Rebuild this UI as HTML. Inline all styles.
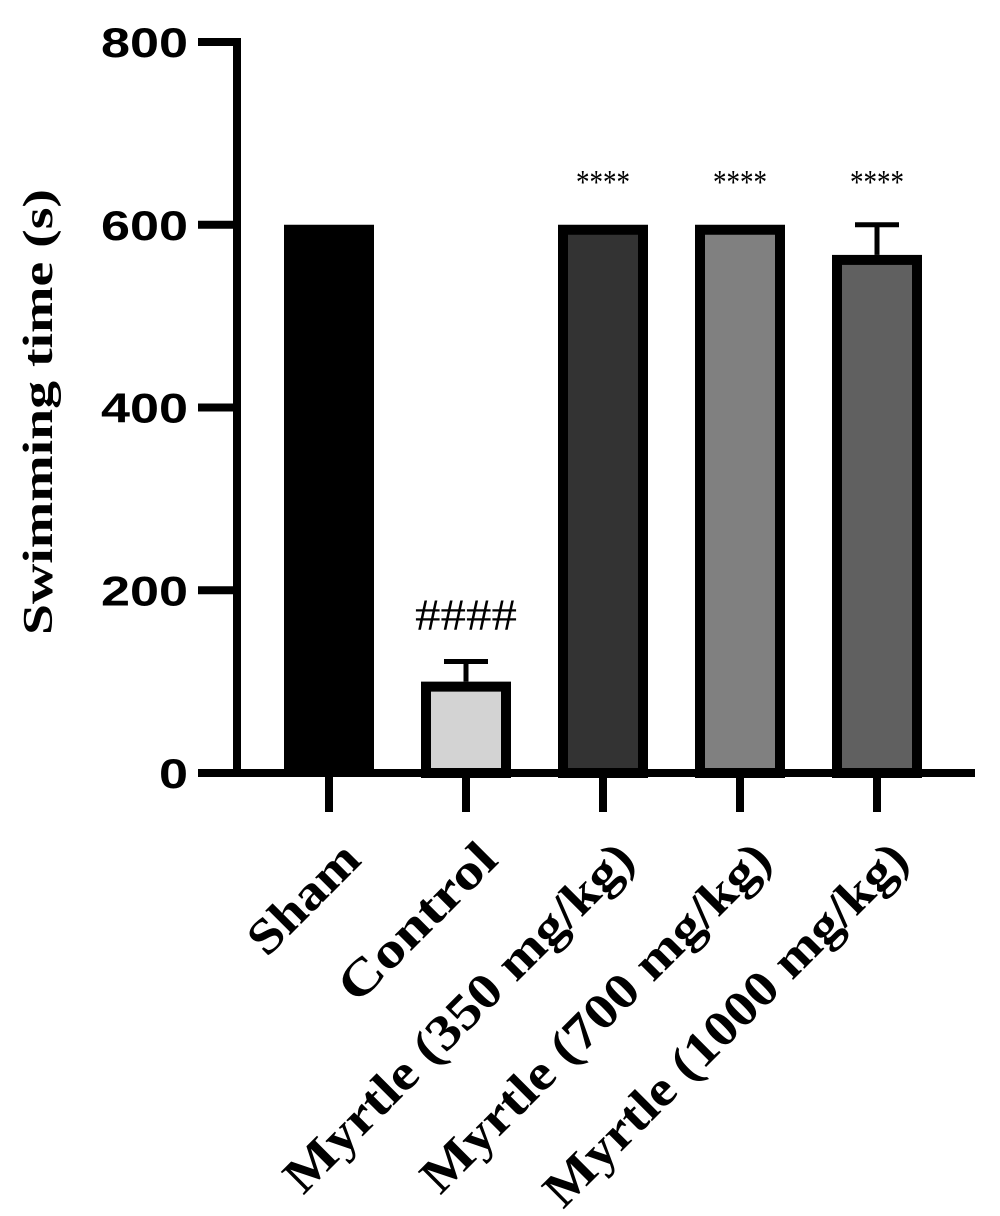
<!DOCTYPE html>
<html><head><meta charset="utf-8"><style>
html,body{margin:0;padding:0;background:#fff;}
svg{display:block;}
</style></head><body>
<svg id="chart" width="1000" height="1216" viewBox="0 0 1000 1216" xmlns="http://www.w3.org/2000/svg">
<text transform="translate(52,412) rotate(-90)" text-anchor="middle" font-family="Liberation Serif, serif" font-weight="bold" font-size="42" textLength="446" lengthAdjust="spacingAndGlyphs">Swimming time (s)</text>
<g id="plot"></g>
</svg>
<script>
const categories = ["Sham", "Control", "Myrtle (350 mg/kg)", "Myrtle (700 mg/kg)", "Myrtle (1000 mg/kg)"];
const means = [600, 100, 600, 600, 567];
const errors = [0, 22, 0, 0, 33];
const annotations = ["", "####", "****", "****", "****"];
const yTicks = [0, 200, 400, 600, 800];
const fills = ["#000000", "#d3d3d3", "#333333", "#808080", "#606060"];
const labelLengths = [136, 202, 472, 472, 492];

const NS = "http://www.w3.org/2000/svg";
const plot = document.getElementById("plot");
const x0 = 237, yBase = 773, yTop = 42, yMax = 800;
const step = 137, firstX = 329, barW = 90;
function yScale(v){ return yBase - (v / yMax) * (yBase - yTop); }
function xScale(i){ return firstX + i * step; }
function mk(tag, attrs){ const e = document.createElementNS(NS, tag); for (const k in attrs) e.setAttribute(k, attrs[k]); plot.appendChild(e); return e; }

// y axis
let yl = mk("line", {x1:x0, y1:yTop-4, x2:x0, y2:yBase+4, stroke:"#000", "stroke-width":8});


yTicks.forEach(t => {
  const y = yScale(t);
  const tk = mk("line", {x1:198, y1:y, x2:x0, y2:y, stroke:"#000", "stroke-width":8});
  
  
  const lb = mk("text", {x:188, y:y+15, "text-anchor":"end", "font-family":"Liberation Sans, sans-serif", "font-weight":"bold", "font-size":"42", textLength: String(t).length*29, lengthAdjust:"spacingAndGlyphs"});
  lb.textContent = t;
  
  
});

// bars
categories.forEach((c, i) => {
  const cx = xScale(i);
  const yv = yScale(means[i]);
  const solid = i === 0;
  const sw = solid ? 0 : 10;
  const r = mk("rect", {x: cx - barW/2 + sw/2, y: yv + sw/2, width: barW - sw, height: yBase - yv - sw/2, fill: fills[i], stroke: solid ? "none" : "#000", "stroke-width": sw});
  
  
  if (errors[i] > 0) {
    const ye = yScale(means[i] + errors[i]);
    const ev = mk("line", {x1:cx, y1:yv, x2:cx, y2:ye, stroke:"#000", "stroke-width":5});
    
    
    const ec = mk("line", {x1:cx-22, y1:ye, x2:cx+22, y2:ye, stroke:"#000", "stroke-width":5});
    
    
  }
  if (annotations[i]) {
    const isHash = annotations[i][0] === "#";
    const top = yScale(means[i] + errors[i]);
    const an = mk("text", {x: cx, y: isHash ? top - 32 : yScale(600) - 32, "text-anchor":"middle", "font-family":"Liberation Serif, serif", "font-size": isHash ? 44 : 34, textLength: isHash ? 102 : 54, lengthAdjust:"spacingAndGlyphs"});
    an.textContent = annotations[i];
    
    
  }
  const tk = mk("line", {x1:cx, y1:yBase, x2:cx, y2:812, stroke:"#000", "stroke-width":8});
  
  
  const lx = cx + 34, ly = 862;
  const lb = mk("text", {x:lx, y:ly, transform:`rotate(-45 ${lx} ${ly})`, "text-anchor":"end", "font-family":"Liberation Serif, serif", "font-weight":"bold", "font-size":"50", textLength: labelLengths[i], lengthAdjust:"spacingAndGlyphs"});
  lb.textContent = c;
  
  
});

// x axis
let xl = mk("line", {x1:x0-4, y1:yBase, x2:975, y2:yBase, stroke:"#000", "stroke-width":8});


</script>
</body></html>
